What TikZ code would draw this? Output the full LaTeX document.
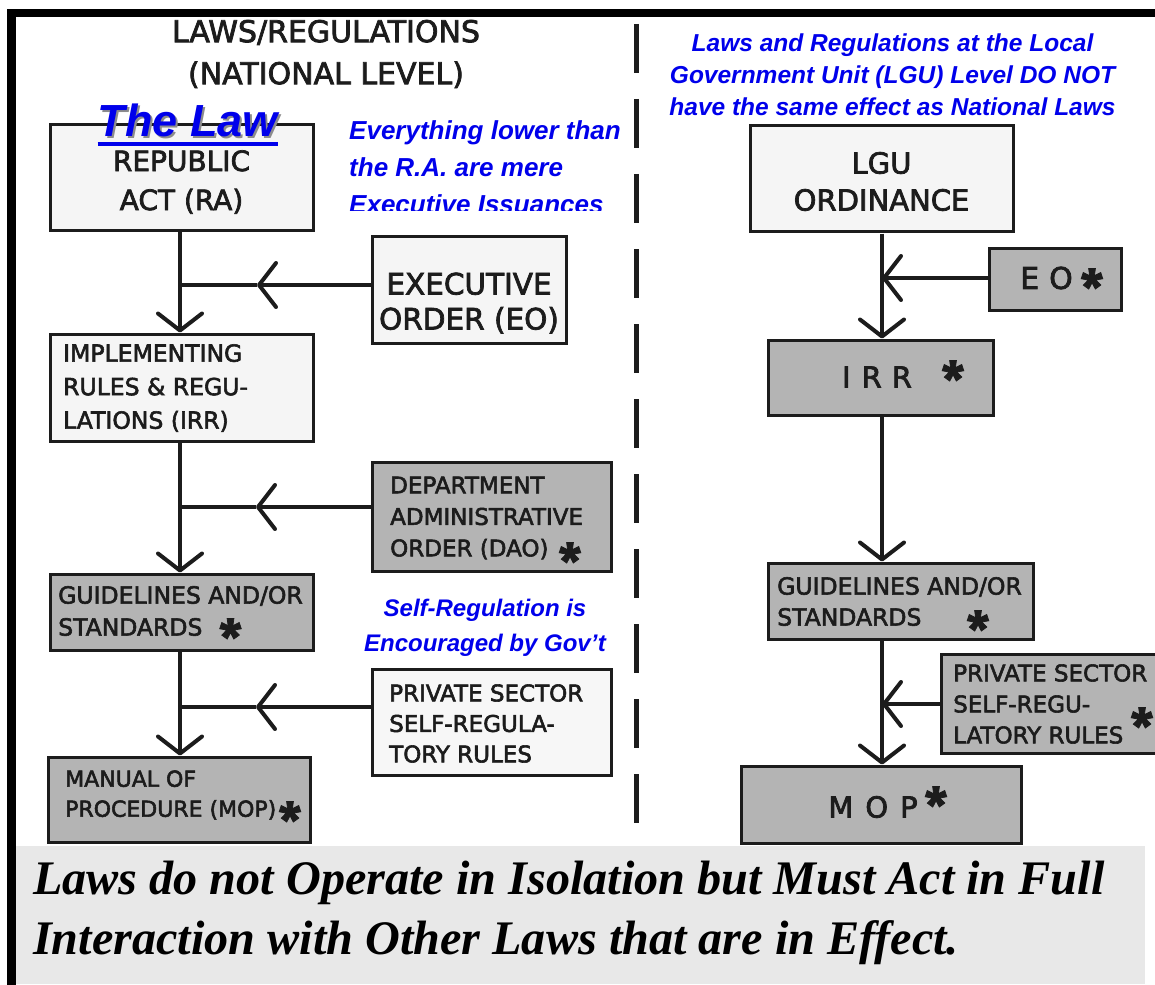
\documentclass[tikz,border=0pt]{standalone}
\usepackage{fontspec}
\usetikzlibrary{arrows.meta}
\newfontfamily\comic[FakeBold=2.5]{DejaVu Sans}
\newfontfamily\arialf{Liberation Sans}
\newfontfamily\starf[FakeBold=1.5]{Fira Sans}
\newfontfamily\timesf{Liberation Serif}
\definecolor{ink}{RGB}{28,28,28}
\definecolor{lfill}{RGB}{245,245,245}
\definecolor{gfill}{RGB}{180,180,180}
\definecolor{bandc}{RGB}{232,232,232}
\definecolor{bluet}{RGB}{0,0,235}
\tikzset{
  chev/.tip={Straight Barb[length=17pt,width=44pt,round]},
  boxl/.style={draw=ink,fill=lfill,line width=3pt,inner sep=0pt},
  boxg/.style={draw=ink,fill=gfill,line width=3pt,inner sep=0pt},
  conn/.style={draw=ink,line width=4pt},
  ctxt/.style={inner sep=0pt,text=ink,align=center},
  ltxt/.style={inner sep=0pt,text=ink,align=left,anchor=west},
  startxt/.style={inner sep=0pt,text=ink,font=\starf\bfseries\fontsize{50}{50}\selectfont},
  bluetxt/.style={inner sep=0pt,text=bluet},
}
\begin{document}
\begin{tikzpicture}[x=1pt,y=-1pt]
\useasboundingbox (0,0) rectangle (1155,984);
\fill[white] (0,0) rectangle (1155,984);
% frame and bottom band
\draw[black,line width=8.5pt] (1170,13) -- (11.5,13) -- (11.5,995);
\fill[bandc] (16,846) rectangle (1145,984);
% divider
\draw[ink,line width=5pt,dash pattern=on 49pt off 26pt] (636,24) -- (636,823);

% ---------- left column ----------
\node[ctxt,font=\comic\fontsize{30}{42}\selectfont] (hdr) at (326,54) {LAWS/REGULATIONS\\(NATIONAL LEVEL)};

\node[boxl,minimum width=263,minimum height=106] (ra) at (181.5,178) {};
\node[ctxt,font=\comic\fontsize{28}{39}\selectfont] (rat) at (181.5,182) {REPUBLIC\\ACT (RA)};

\node[boxl,minimum width=194,minimum height=107] (eo) at (469,289.5) {};
\node[ctxt,font=\comic\fontsize{29.5}{35}\selectfont] (eot) at (469,303) {EXECUTIVE\\ORDER (EO)};

\node[boxl,minimum width=263,minimum height=107] (irr) at (181.5,387.5) {};
\node[ltxt,font=\comic\fontsize{23.5}{33.5}\selectfont] (irrt) at (63,388) {IMPLEMENTING\\RULES \& REGU-\\LATIONS (IRR)};

\node[boxg,minimum width=239,minimum height=109] (dao) at (491.5,516.5) {};
\node[ltxt,font=\comic\fontsize{23}{31.5}\selectfont] (daot) at (390,518) {DEPARTMENT\\ADMINISTRATIVE\\ORDER (DAO)};
\node[startxt] (daos) at (570,561) {*};

\node[boxg,minimum width=263,minimum height=76] (gd) at (181.5,612) {};
\node[ltxt,font=\comic\fontsize{23.5}{32}\selectfont] (gdt) at (58,611) {GUIDELINES AND/OR\\STANDARDS};
\node[startxt] (gds) at (230.5,637) {*};

\node[boxl,fill=white!97!black,minimum width=239,minimum height=106] (ps) at (491.5,722) {};
\node[ltxt,font=\comic\fontsize{23}{30.5}\selectfont] (pst) at (389,723.5) {PRIVATE SECTOR\\SELF-REGULA-\\TORY RULES};

\node[boxg,minimum width=262,minimum height=85] (mop) at (179,799.5) {};
\node[ltxt,font=\comic\fontsize{22}{30}\selectfont] (mopt) at (65,795) {MANUAL OF\\PROCEDURE (MOP)};
\node[startxt] (mops) at (290,820) {*};

% blue notes left
\node[bluetxt,font=\arialf\bfseries\itshape\fontsize{45}{45}\selectfont,text=black!45,anchor=base west] (lawsh) at (99.5,138.5) {The Law};
\node[bluetxt,font=\arialf\bfseries\itshape\fontsize{45}{45}\selectfont,anchor=base west] (law) at (97.5,136.5) {The Law};
\draw[bluet,line width=4pt] ([yshift=-8pt]law.base west) -- ([yshift=-8pt]law.base east);

\begin{scope}
\clip (340,100) rectangle (632,211);
\node[bluetxt,align=left,anchor=west,font=\arialf\bfseries\itshape\fontsize{26}{37}\selectfont] (ev) at (349,167.5) {Everything lower than\\the R.A. are mere\\Executive Issuances};
\end{scope}

\node[bluetxt,align=center,font=\arialf\bfseries\itshape\fontsize{24}{35}\selectfont] (sr) at (485,627.5) {Self-Regulation is\\Encouraged by Gov’t};

% left connectors
\coordinate (spL) at (180,0);
\coordinate (j1) at (180,285);
\coordinate (a1) at (257,285);
\coordinate (j2) at (180,507);
\coordinate (a2) at (256,507);
\coordinate (j3) at (180,707);
\coordinate (a3) at (256,707);
\draw[conn,-{chev}] (ra.south -| spL) -- (irr.north -| spL);
\draw[conn,-{chev}] (irr.south -| spL) -- (gd.north -| spL);
\draw[conn,-{chev}] (gd.south -| spL) -- (mop.north -| spL);
\draw[conn,-{chev}] (eo.west |- j1) -- (a1);
\draw[conn] (a1) -- (j1);
\draw[conn,-{chev}] (dao.west |- j2) -- (a2);
\draw[conn] (a2) -- (j2);
\draw[conn,-{chev}] (ps.west |- j3) -- (a3);
\draw[conn] (a3) -- (j3);

% ---------- right column ----------
\node[bluetxt,align=center,font=\arialf\bfseries\itshape\fontsize{24.5}{32}\selectfont] (lh) at (892.5,75) {Laws and Regulations at the Local\\Government Unit (LGU) Level DO NOT\\have the same effect as National Laws};

\node[boxl,minimum width=263,minimum height=106] (lgu) at (881.5,179) {};
\node[ctxt,font=\comic\fontsize{29}{37}\selectfont] (lgut) at (881.5,181.5) {LGU\\ORDINANCE};

\node[boxg,minimum width=132,minimum height=62] (eo2) at (1055,279) {};
\node[ctxt,font=\comic\fontsize{30}{30}\selectfont] (eo2t) at (1046.5,278) {E\hspace{10pt}O};
\node[startxt] (eo2s) at (1092,287) {*};

\node[boxg,minimum width=225,minimum height=75] (irr2) at (880.5,377.5) {};
\node[ctxt,font=\comic\fontsize{29}{29}\selectfont] (irr2t) at (877,377) {I\hspace{11pt}R\hspace{10pt}R};
\node[startxt] (irr2s) at (953,379) {*};

\node[boxg,minimum width=265,minimum height=76] (gd2) at (900.5,601) {};
\node[ltxt,font=\comic\fontsize{23.5}{31}\selectfont] (gd2t) at (777,601.5) {GUIDELINES AND/OR\\STANDARDS};
\node[startxt] (gd2s) at (978,629) {*};

\node[boxg,minimum width=234,minimum height=99] (ps2) at (1058,703.5) {};
\node[ltxt,font=\comic\fontsize{23}{31}\selectfont] (ps2t) at (953,704) {PRIVATE SECTOR\\SELF-REGU-\\LATORY RULES};
\node[startxt] (ps2s) at (1142,726) {*};

\node[boxg,minimum width=280,minimum height=77] (mop2) at (881,804.5) {};
\node[ctxt,font=\comic\fontsize{29}{29}\selectfont] (mop2t) at (873,807) {M\hspace{12pt}O\hspace{12pt}P};
\node[startxt] (mop2s) at (936,805) {*};

% right connectors
\coordinate (spR) at (882,0);
\coordinate (k1) at (882,278);
\coordinate (k2) at (882,704);
\draw[conn,-{chev}] (lgu.south -| spR) -- (irr2.north -| spR);
\draw[conn,-{chev}] (irr2.south -| spR) -- (gd2.north -| spR);
\draw[conn,-{chev}] (gd2.south -| spR) -- (mop2.north -| spR);
\draw[conn,-{chev}] (eo2.west |- k1) -- (k1);
\draw[conn,-{chev}] (ps2.west |- k2) -- (k2);

% bottom statement
\node[inner sep=0pt,text=black,align=left,anchor=west,font=\timesf\bfseries\itshape\fontsize{48.2}{60}\selectfont] (stmt) at (33,913) {Laws do not Operate in Isolation but Must Act in Full\\Interaction with Other Laws that are in Effect.};
\end{tikzpicture}
\end{document}
